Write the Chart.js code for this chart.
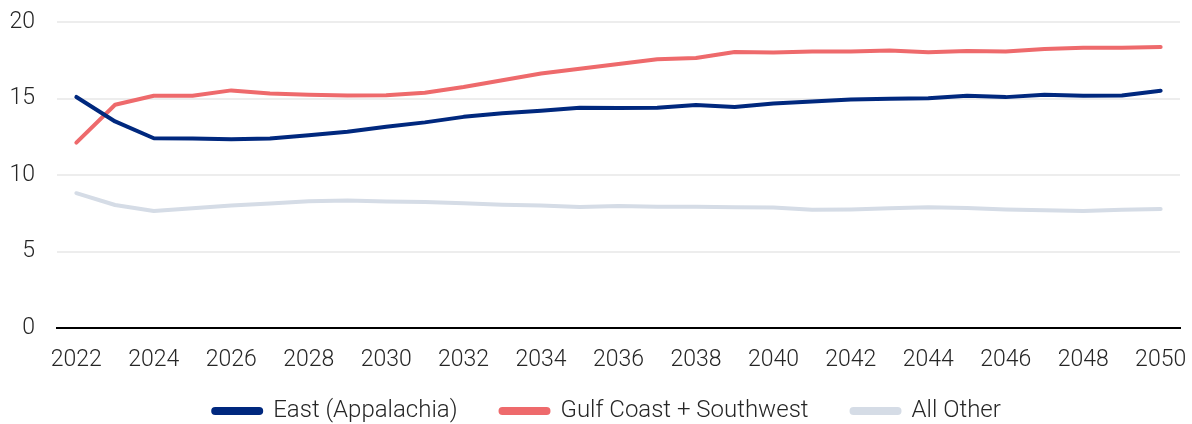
<!DOCTYPE html>
<html>
<head>
<meta charset="utf-8">
<script src="https://cdn.jsdelivr.net/npm/chart.js@4/dist/chart.umd.min.js"></script>
<style>
  html, body { margin: 0; padding: 0; background: #ffffff; }
  #wrap { width: 1192px; height: 424px; position: relative; }
</style>
</head>
<body>
<div id="wrap"><canvas id="c"></canvas></div>
<script>
const years = [2022, 2023, 2024, 2025, 2026, 2027, 2028, 2029, 2030, 2031, 2032, 2033, 2034, 2035,
  2036, 2037, 2038, 2039, 2040, 2041, 2042, 2043, 2044, 2045, 2046, 2047, 2048, 2049, 2050];

const eastAppalachia = [15.1, 13.5, 12.4, 12.38, 12.34, 12.38, 12.6, 12.82, 13.15, 13.44, 13.8, 14.03, 14.2, 14.4,
  14.38, 14.4, 14.58, 14.45, 14.68, 14.8, 14.94, 14.98, 15.02, 15.18, 15.09, 15.25, 15.18, 15.2, 15.51];

const gulfCoastSouthwest = [12.12, 14.59, 15.18, 15.18, 15.53, 15.33, 15.25, 15.2, 15.22, 15.38, 15.75, 16.19, 16.63, 16.94,
  17.25, 17.56, 17.65, 18.04, 18.0, 18.07, 18.08, 18.13, 18.02, 18.11, 18.07, 18.24, 18.31, 18.31, 18.37];

const allOther = [8.81, 8.04, 7.65, 7.82, 8.0, 8.13, 8.28, 8.33, 8.26, 8.24, 8.15, 8.06, 8.0, 7.91,
  7.97, 7.93, 7.93, 7.89, 7.87, 7.73, 7.75, 7.82, 7.89, 7.85, 7.75, 7.69, 7.65, 7.73, 7.78];

const yMin = 0, yMax = 20, yStep = 5;

const FONT = { family: 'Roboto', size: 23, weight: '300' };
const LEGEND_FONT = { family: 'Roboto', size: 24, weight: '300' };
const TEXT = '#262626';

function series(label, data, color) {
  return {
    label, data,
    borderColor: color,
    backgroundColor: color,
    borderWidth: 4,
    pointRadius: 0,
    pointHoverRadius: 0,
    tension: 0,
    borderJoinStyle: 'round',
    borderCapStyle: 'round'
  };
}

// Nudge the legend block so it sits where the layout wants it (centre and baseline).
const legendOffset = {
  id: 'legendOffset',
  afterLayout(chart, args, opts) {
    const lg = chart.legend;
    if (!lg) return;
    lg.left += opts.dx; lg.right += opts.dx;
    lg.top += opts.dy; lg.bottom += opts.dy;
  }
};

new Chart(document.getElementById('c'), {
  type: 'line',
  plugins: [legendOffset],
  data: {
    labels: years.map(String),
    datasets: [
      series('East (Appalachia)', eastAppalachia, '#00287E'),
      series('Gulf Coast + Southwest', gulfCoastSouthwest, '#EE6A6C'),
      series('All Other', allOther, '#D5DCE6')
    ]
  },
  options: {
    responsive: true,
    maintainAspectRatio: false,
    animation: false,
    layout: { padding: { left: 0, right: 12, top: 22, bottom: -29 } },
    plugins: {
      tooltip: { enabled: false },
      legendOffset: { dx: 17, dy: -20 },
      legend: {
        position: 'bottom',
        labels: {
          font: LEGEND_FONT,
          color: TEXT,
          boxWidth: 48,
          boxHeight: 4,
          useBorderRadius: true,
          borderRadius: 2,
          padding: 43
        }
      }
    },
    scales: {
      x: {
        type: 'category',
        offset: true,
        grid: { display: false, drawTicks: false },
        border: { display: true, color: '#000000', width: 2 },
        ticks: {
          font: FONT,
          color: TEXT,
          autoSkip: false,
          maxRotation: 0,
          padding: 18,
          callback: function (val, i) { return i % 2 === 0 ? this.getLabelForValue(val) : ''; }
        },
        afterFit: (s) => { s.height = 48; s.paddingLeft = 0; s.paddingRight = 0; }
      },
      y: {
        min: yMin,
        max: yMax,
        grid: { color: '#EDEDED', lineWidth: 2, drawTicks: false },
        border: { display: false },
        ticks: { font: FONT, color: TEXT, padding: 22, stepSize: yStep },
        afterFit: (s) => { s.width = 57; s.paddingTop = 0; s.paddingBottom = 0; }
      }
    }
  }
});
</script>
</body>
</html>
